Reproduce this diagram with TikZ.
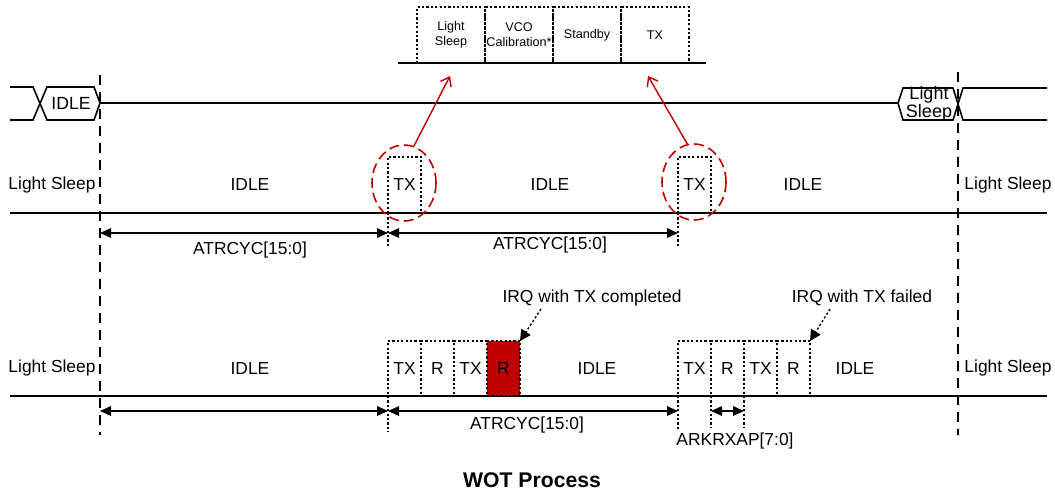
\documentclass[tikz,border=0pt]{standalone}
\usepackage{fontspec}
\setmainfont{Liberation Sans}
\usetikzlibrary{arrows.meta, positioning, shapes.geometric}
\definecolor{wotred}{HTML}{C00000}

\begin{document}
\begin{tikzpicture}[x=0.5pt, y=-0.5pt,
  lbl/.style={font=\fontsize{8.7}{10}\selectfont, inner sep=1pt},
  slot/.style={draw, dash pattern=on 1.1pt off 1.1pt, line width=0.7pt, minimum width=16.5pt,
                minimum height=28pt, inner sep=0pt, outer sep=0pt,
                font=\fontsize{8.7}{10}\selectfont},
  stage/.style={draw, dash pattern=on 1.1pt off 1.1pt, line width=0.7pt, minimum width=34pt,
                minimum height=28pt, inner sep=0pt, outer sep=0pt, align=center,
                font=\fontsize{6.3}{7.5}\selectfont},
  timeline/.style={line width=0.8pt},
  marker/.style={dash pattern=on 5pt off 3.5pt, line width=0.75pt},
  guide/.style={dash pattern=on 1.1pt off 1.1pt, line width=0.7pt},
  dim/.style={{Triangle[length=5.5pt,width=4.8pt]}-{Triangle[length=5.5pt,width=4.8pt]}, line width=0.7pt},
  irq/.style={dash pattern=on 1.1pt off 1.1pt, line width=0.7pt, -{Triangle[length=5.5pt,width=5.5pt]}},
  zoomring/.style={ellipse, draw=wotred, dash pattern=on 5pt off 2.5pt, line width=0.8pt,
                minimum width=32pt, minimum height=38pt, inner sep=0pt},
  zoomarrow/.style={-{Straight Barb[length=4pt,width=6pt]}, draw=wotred, line width=0.7pt}
]

\useasboundingbox (0,0) rectangle (1055,495);

% === TX sequence (top) ===
\coordinate (m0) at (398,63);
\coordinate (m1) at (706,63);
\draw[timeline] (m0) -- (m1);
\node[stage, anchor=south west] (ls)  at (417,63) {Light\\Sleep};
\node[stage, right=0pt of ls]   (vco) {VCO\\Calibration*};
\node[stage, right=0pt of vco]  (sb)  {Standby};
\node[stage, right=0pt of sb]   (stx) {TX};

% === Bus state ===
\draw[timeline] (10,87) -- (33,87) -- (47,120) -- (94,120) -- (100,103) -- (94,87) -- (47,87) -- (33,120) -- (10,120);
\draw[timeline] (100,103) -- (898,103) -- (903,88) -- (953,88) -- (963,120) -- (1047,120);
\draw[timeline] (898,103) -- (903,120) -- (953,120) -- (963,88) -- (1047,88);
\node[font=\fontsize{8.8}{10}\selectfont, inner sep=0pt] (busidle) at (71,103) {IDLE};
\node[font=\fontsize{9}{9}\selectfont, align=center, inner sep=0pt] (bussleep) at (929,104) {Light\\Sleep};

% === Markers ===
\coordinate (k0) at (100,75);
\coordinate (k1) at (100,435);
\coordinate (k2) at (958,72);
\coordinate (k3) at (958,435);
\draw[marker] (k0) -- (k1);
\draw[marker] (k2) -- (k3);

% === WOT without ack ===
\coordinate (b0) at (10,213);
\coordinate (b1) at (1047,213);
\draw[timeline] (b0) -- (b1);
\node[lbl] (ls1) at (52,185) {Light Sleep};
\node[lbl] (ls2) at (1008,185) {Light Sleep};
\node[lbl] (idle1) at (250,185) {IDLE};
\node[lbl] (idle2) at (550,185) {IDLE};
\node[lbl] (idle3) at (803,185) {IDLE};
\node[slot, anchor=south west] (tx1) at (388,213) {TX};
\node[slot, anchor=south west] (tx2) at (678,213) {TX};

\node[zoomring] (ring1) at (404,183) {};
\node[zoomring] (ring2) at (694,182) {};
\coordinate (up1) at (450,76);
\coordinate (up2) at (648,76);
\draw[zoomarrow] (ring1.75) -- (up1);
\draw[zoomarrow] (ring2.100) -- (up2);

\coordinate (g1) at (388,248);
\coordinate (g2) at (678,248);
\draw[guide] (tx1.south west) -- (g1);
\draw[guide] (tx2.south west) -- (g2);
\coordinate (a0) at (100,233);
\coordinate (a1) at (388,233);
\coordinate (a2) at (678,233);
\draw[dim] (a0) -- (a1);
\draw[dim] (a1) -- (a2);
\node[lbl] (cyc1) at (250,250) {ATRCYC[15:0]};
\node[lbl] (cyc2) at (550,245) {ATRCYC[15:0]};

% === WOT with ack ===
\coordinate (c0) at (10,396);
\coordinate (c1) at (1047,396);
\draw[timeline] (c0) -- (c1);
\node[lbl] (ls3) at (52,368) {Light Sleep};
\node[lbl] (ls4) at (1008,368) {Light Sleep};
\node[lbl] (idle4) at (250,368) {IDLE};
\node[lbl] (idle5) at (597,368) {IDLE};
\node[lbl] (idle6) at (855,368) {IDLE};

\node[slot, minimum height=27.5pt, anchor=south west] (w1tx) at (388,396) {TX};
\node[slot, minimum height=27.5pt, right=0pt of w1tx] (w1r)  {R};
\node[slot, minimum height=27.5pt, right=0pt of w1r]  (w1tx2) {TX};
\node[slot, minimum height=27.5pt, fill=wotred, right=0pt of w1tx2] (w1r2) {R};

\node[slot, minimum height=27.5pt, anchor=south west] (w2tx) at (678,396) {TX};
\node[slot, minimum height=27.5pt, right=0pt of w2tx] (w2r)  {R};
\node[slot, minimum height=27.5pt, right=0pt of w2r]  (w2tx2) {TX};
\node[slot, minimum height=27.5pt, right=0pt of w2tx2] (w2r2) {R};

\node[lbl] (irq1) at (592,298) {IRQ with TX completed};
\node[lbl] (irq2) at (862,298) {IRQ with TX failed};
\coordinate (q1) at (541,309);
\coordinate (q2) at (830,309);
\draw[irq] (q1) -- (w1r2.north east);
\draw[irq] (q2) -- (w2r2.north east);

\coordinate (g3) at (388,432);
\coordinate (g4) at (678,430);
\coordinate (g5) at (711,428);
\coordinate (g6) at (744,428);
\draw[guide] (w1tx.south west) -- (g3);
\draw[guide] (w2tx.south west) -- (g4);
\draw[guide] (w2r.south west) -- (g5);
\draw[guide] (w2r.south east) -- (g6);
\coordinate (e0) at (100,411);
\coordinate (e1) at (388,411);
\coordinate (e2) at (678,411);
\coordinate (e3) at (711,411);
\coordinate (e4) at (744,411);
\draw[dim] (e0) -- (e1);
\draw[dim] (e1) -- (e2);
\draw[dim] (e3) -- (e4);
\node[lbl] (cyc3) at (527,425) {ATRCYC[15:0]};
\node[lbl] (ack) at (735,441) {ARKRXAP[7:0]};

% === Title ===
\node[font=\fontsize{10.6}{12}\selectfont\bfseries] (title) at (532,480) {WOT Process};

\end{tikzpicture}
\end{document}
